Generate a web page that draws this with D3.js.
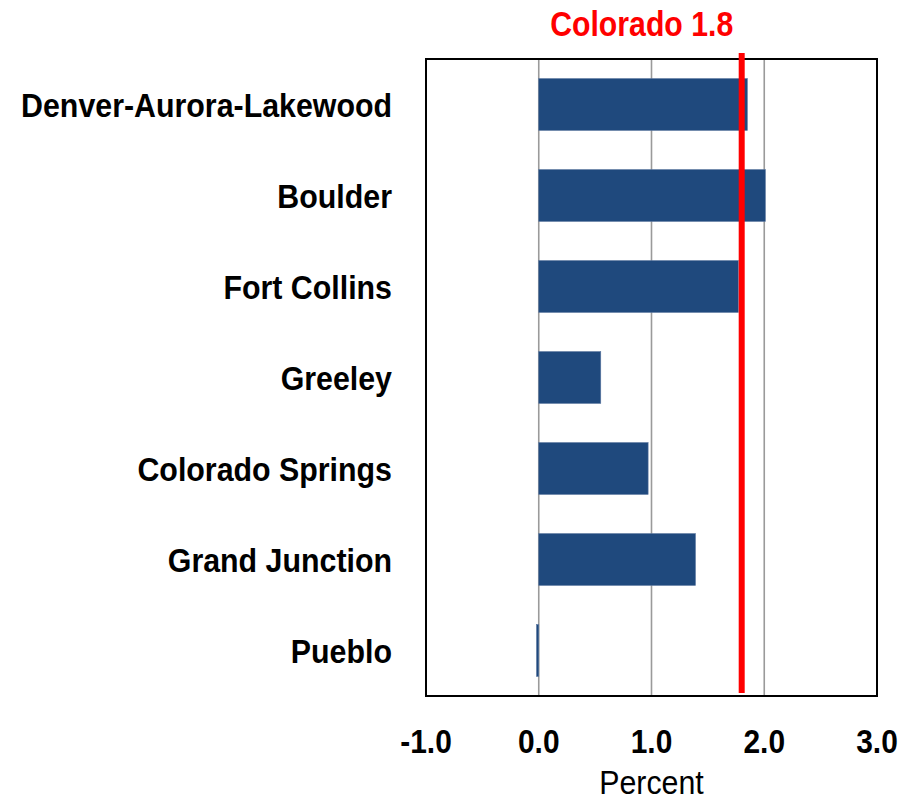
<!DOCTYPE html>
<html>
<head>
<meta charset="utf-8">
<script src="https://cdn.jsdelivr.net/npm/d3@7"></script>
<style>
  html, body { margin: 0; padding: 0; background: #fff; }
  svg { display: block; }
  text { font-family: "Liberation Sans", Arial, sans-serif; }
</style>
</head>
<body>
<div id="chart"></div>
<script>
// Metro areas and their growth rate (percent)
const metros = ["Denver-Aurora-Lakewood", "Boulder", "Fort Collins", "Greeley",
                "Colorado Springs", "Grand Junction", "Pueblo"];
const growth = [1.85, 2.01, 1.77, 0.55, 0.97, 1.39, -0.02];

// Statewide reference value
const stateLabel = "Colorado";
const stateValue = 1.8;

// Axis settings
const xDomain = [-1, 3];
const xTicks = [-1, 0, 1, 2, 3];
const gridTicks = [0, 1, 2];
const xTitle = "Percent";

const width = 915, height = 800;
const margin = { top: 59, right: 38, bottom: 104, left: 426 };
const plotW = width - margin.left - margin.right;
const plotH = height - margin.top - margin.bottom;

const svg = d3.select("#chart").append("svg")
  .attr("width", width).attr("height", height);

const g = svg.append("g").attr("transform", `translate(${margin.left},${margin.top})`);

const x = d3.scaleLinear().domain(xDomain).range([0, plotW]);
const y = d3.scaleBand().domain(metros).range([0, plotH])
  .paddingInner(0.43).paddingOuter(0.215);

// condensed text: horizontally squeezed around its anchor point
function narrowText(sel, tx, ty, sx) {
  return sel.attr("transform", (d, i) => `translate(${tx(d, i)},${ty(d, i)}) scale(${sx},1)`);
}

// vertical gridlines
g.selectAll("line.grid").data(gridTicks).join("line")
  .attr("class", "grid")
  .attr("x1", d => x(d)).attr("x2", d => x(d))
  .attr("y1", 0).attr("y2", plotH)
  .attr("stroke", "#9a9a9a").attr("stroke-width", 1.6);

// bars
const data = metros.map((m, i) => ({ metro: m, value: growth[i] }));
g.selectAll("rect.bar").data(data).join("rect")
  .attr("class", "bar")
  .attr("x", d => x(Math.min(0, d.value)))
  .attr("width", d => Math.abs(x(d.value) - x(0)))
  .attr("y", d => y(d.metro))
  .attr("height", y.bandwidth())
  .attr("fill", "#1f497d")
  .attr("stroke", "#5b77a0").attr("stroke-width", 0.6);

// plot frame
g.append("rect")
  .attr("x", 0).attr("y", 0).attr("width", plotW).attr("height", plotH)
  .attr("fill", "none").attr("stroke", "#000").attr("stroke-width", 2);

// statewide marker line
g.append("line")
  .attr("x1", x(stateValue)).attr("x2", x(stateValue))
  .attr("y1", -6).attr("y2", plotH - 3)
  .attr("stroke", "#ff0000").attr("stroke-width", 6);

narrowText(svg.append("text"), () => margin.left + x(stateValue) - 100, () => 36, 0.84)
  .attr("text-anchor", "middle")
  .attr("font-size", 36).attr("font-weight", "bold")
  .attr("fill", "#ff0000")
  .text(`${stateLabel} ${d3.format(".1f")(stateValue)}`);

// category labels
narrowText(
  g.selectAll("text.cat").data(metros).join("text").attr("class", "cat"),
  () => -34, d => y(d) + y.bandwidth() / 2 + 12, 0.92)
  .attr("text-anchor", "end")
  .attr("font-size", 33).attr("font-weight", "bold").attr("fill", "#000")
  .text(d => d);

// x tick labels
const fmt = d3.format(".1f");
narrowText(
  g.selectAll("text.tick").data(xTicks).join("text").attr("class", "tick"),
  d => x(d), () => plotH + 57, 0.88)
  .attr("text-anchor", "middle")
  .attr("font-size", 34).attr("font-weight", "bold").attr("fill", "#000")
  .text(d => d < 0 ? "-" + fmt(-d) : fmt(d));

// x axis title
narrowText(svg.append("text"), () => margin.left + plotW / 2, () => 794, 0.92)
  .attr("text-anchor", "middle")
  .attr("font-size", 33).attr("fill", "#000")
  .text(xTitle);
</script>
</body>
</html>
